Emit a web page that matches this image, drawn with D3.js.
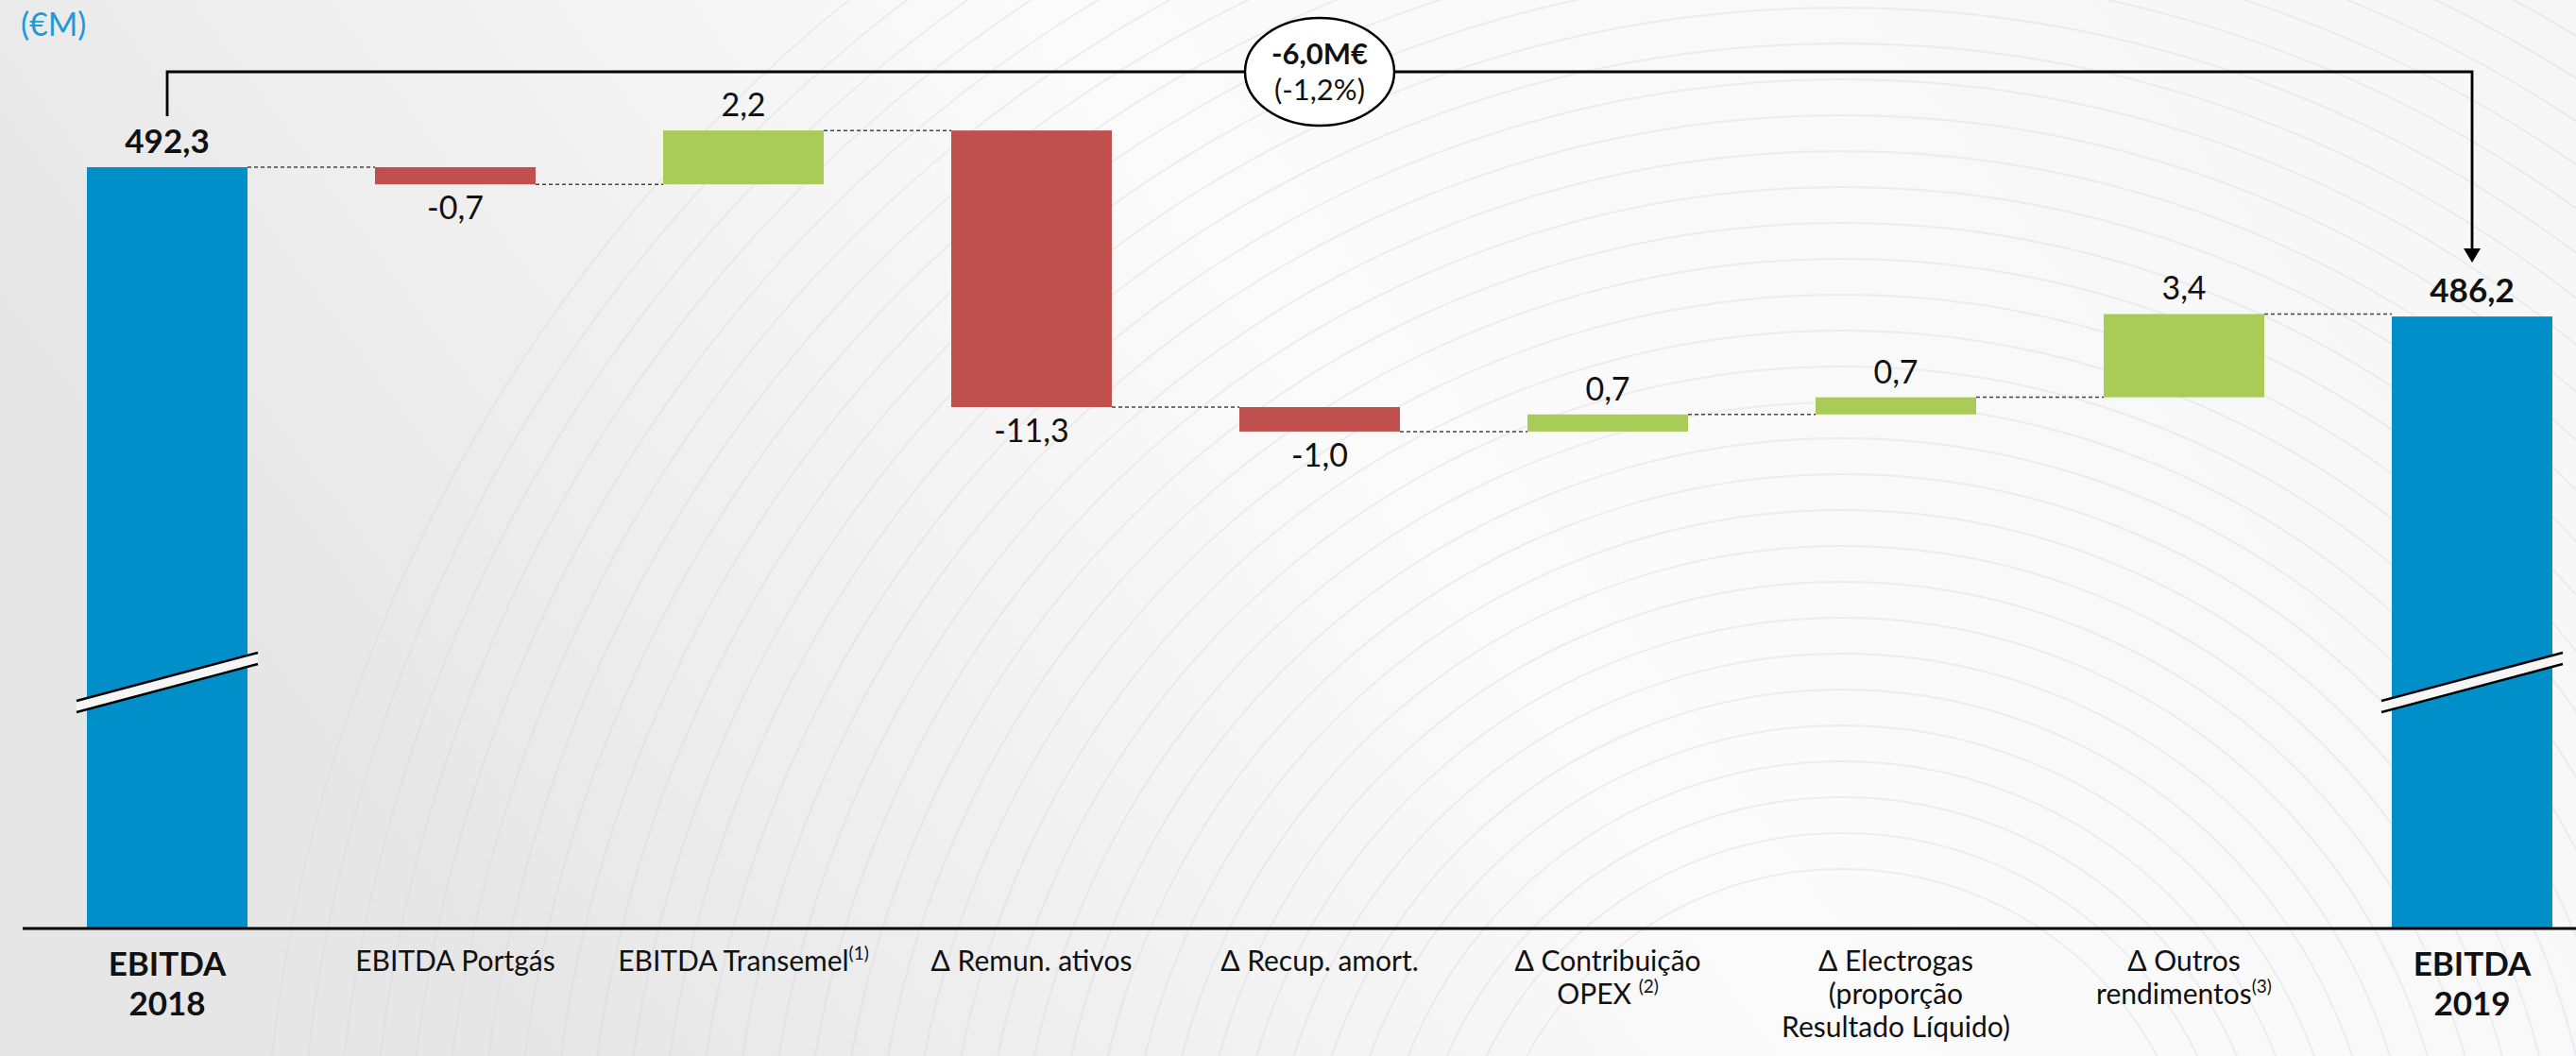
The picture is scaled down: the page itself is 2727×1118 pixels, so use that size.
<!DOCTYPE html>
<html>
<head>
<meta charset="utf-8">
<script src="https://cdn.jsdelivr.net/npm/d3@7"></script>
<style>
  html, body { margin: 0; padding: 0; background: #f7f7f7; }
  svg { display: block; }
  text { font-family: Lato, "Open Sans", sans-serif; }
</style>
</head>
<body>
<svg id="chart" width="2727" height="1118"></svg>
<script>
// ---- data ----
const categories = ["EBITDA 2018", "EBITDA Portgás", "EBITDA Transemel", "Δ Remun. ativos", "Δ Recup. amort.",
  "Δ Contribuição OPEX", "Δ Electrogas (proporção Resultado Líquido)", "Δ Outros rendimentos", "EBITDA 2019"];
const values = [492.3, -0.7, 2.2, -11.3, -1.0, 0.7, 0.7, 3.4, 486.2];
const kinds = ["total", "delta", "delta", "delta", "delta", "delta", "delta", "delta", "total"];
// category label lines: [text, superscript]
const labelLines = [
  [["EBITDA", ""], ["2018", ""]],
  [["EBITDA Portgás", ""]],
  [["EBITDA Transemel", "(1)"]],
  [["Δ Remun. ativos", ""]],
  [["Δ Recup. amort.", ""]],
  [["Δ Contribuição", ""], ["OPEX ", "(2)"]],
  [["Δ Electrogas", ""], ["(proporção", ""], ["Resultado Líquido)", ""]],
  [["Δ Outros", ""], ["rendimentos", "(3)"]],
  [["EBITDA", ""], ["2019", ""]]
];
const changeLabel = ["-6,0M€", "(-1,2%)"];
const unitLabel = "(€M)";
const axisMin = 461.2;   // value at the (broken) baseline
const axisTop = 492.3;

// ---- colours ----
const cBlue = "#008fc9", cRed = "#c0504d", cGreen = "#a9cc58";

const svg = d3.select("#chart");
const W = 2727, H = 1118;

// background
const defs = svg.append("defs");
const bg = defs.append("linearGradient").attr("id", "bg").attr("x1", "0").attr("y1", "0.3").attr("x2", "1").attr("y2", "0");
bg.append("stop").attr("offset", "0").attr("stop-color", "#e6e6e6");
bg.append("stop").attr("offset", "0.45").attr("stop-color", "#fbfbfb");
bg.append("stop").attr("offset", "1").attr("stop-color", "#f6f6f6");
svg.append("rect").attr("width", W).attr("height", H).attr("fill", "url(#bg)");
// faint decorative arcs
const deco = svg.append("g").attr("fill", "none").attr("stroke", "#d6d6e0").attr("stroke-width", 2).attr("opacity", 0.35);
d3.range(380, 1700, 38).forEach(r => {
  deco.append("circle").attr("cx", 1950).attr("cy", 1300).attr("r", r);
});

// ---- scales ----
const x = d3.scaleBand().domain(categories).range([24.5, 2769.5]).paddingInner(0.4426).paddingOuter(0.2213);
const y = d3.scaleLinear().domain([axisMin, axisTop]).range([983, 177]);

const loc = d3.formatLocale({decimal: ",", thousands: " ", grouping: [3], currency: ["", "€"], minus: "-"});
const fmt = loc.format(".1f");

// compute bar extents
let running = 0;
const bars = values.map((v, i) => {
  const c = categories[i];
  if (kinds[i] === "total") {
    running = v;
    return {c, v, lo: axisMin, hi: v, end: v, kind: "total"};
  }
  const start = running;
  running = start + v;
  return {c, v, lo: Math.min(start, running), hi: Math.max(start, running), end: running, kind: v < 0 ? "neg" : "pos"};
});

// connectors
const conn = svg.append("g").attr("stroke", "#444").attr("stroke-width", 1.5).attr("stroke-dasharray", "4,3");
bars.forEach((b, i) => {
  if (i === bars.length - 1) return;
  const nb = bars[i + 1];
  const level = b.kind === "total" ? b.hi : b.end;
  conn.append("line")
    .attr("x1", x(b.c) + x.bandwidth()).attr("x2", x(nb.c))
    .attr("y1", y(level)).attr("y2", y(level));
});

// bars
svg.append("g").selectAll("rect").data(bars).join("rect")
  .attr("x", d => x(d.c)).attr("width", x.bandwidth())
  .attr("y", d => y(d.hi)).attr("height", d => y(d.lo) - y(d.hi))
  .attr("fill", d => d.kind === "total" ? cBlue : d.kind === "neg" ? cRed : cGreen);

// axis baseline
const xAxis = d3.axisBottom(x).tickSize(0).tickFormat("");
const gx = svg.append("g").attr("transform", `translate(0,${y(axisMin)})`).call(xAxis);
gx.select(".domain").attr("d", `M24,0H${W}`).attr("stroke", "#000").attr("stroke-width", 3);

// break symbols on total bars
bars.filter(b => b.kind === "total").forEach(b => {
  const x0 = x(b.c) - 11, x1 = x(b.c) + x.bandwidth() + 11;
  const yl = 742, yr = 691, gap = 12;
  const g = svg.append("g");
  g.append("path").attr("d", `M${x0},${yl}L${x1},${yr}L${x1},${yr + gap}L${x0},${yl + gap}Z`).attr("fill", "#f5f5f5");
  g.append("line").attr("x1", x0).attr("y1", yl).attr("x2", x1).attr("y2", yr).attr("stroke", "#000").attr("stroke-width", 2.5);
  g.append("line").attr("x1", x0).attr("y1", yl + gap).attr("x2", x1).attr("y2", yr + gap).attr("stroke", "#000").attr("stroke-width", 2.5);
});

// value labels
svg.append("g").selectAll("text").data(bars).join("text")
  .attr("x", d => x(d.c) + x.bandwidth() / 2)
  .attr("y", d => d.kind === "neg" ? y(d.lo) + 37 : y(d.hi) - 15)
  .attr("text-anchor", "middle")
  .attr("font-size", d => d.kind === "total" ? 35 : 34)
  .attr("font-weight", d => d.kind === "total" ? 700 : 400)
  .attr("fill", "#111")
  .text(d => fmt(d.v));

// category labels
bars.forEach((b, i) => {
  const bold = b.kind === "total";
  const t = svg.append("text")
    .attr("text-anchor", "middle")
    .attr("font-size", bold ? 35 : 30)
    .attr("font-weight", bold ? 700 : 400)
    .attr("fill", "#111");
  labelLines[i].forEach((ln, j) => {
    const cx = x(b.c) + x.bandwidth() / 2;
    const yy = bold ? 1033 + j * 42 : 1028 + j * 35;
    t.append("tspan").attr("x", cx).attr("y", yy).text(ln[0]);
    if (ln[1]) {
      t.append("tspan").attr("font-size", 19).attr("dy", -12).text(ln[1]);
    }
  });
});

// unit label
svg.append("text").attr("x", 22).attr("y", 38).attr("font-size", 34).attr("fill", "#1e9ad6").text(unitLabel);

// bracket annotation
const first = bars[0], last = bars[bars.length - 1];
const xa = x(first.c) + x.bandwidth() / 2, xb = x(last.c) + x.bandwidth() / 2;
const yTop = 76;
svg.append("path")
  .attr("d", `M${xa},${y(first.hi) - 54}V${yTop}H${xb}V${y(last.hi) - 70}`)
  .attr("fill", "none").attr("stroke", "#000").attr("stroke-width", 2.8);
svg.append("path")
  .attr("d", `M${xb - 9},${y(last.hi) - 72}L${xb + 9},${y(last.hi) - 72}L${xb},${y(last.hi) - 57}Z`)
  .attr("fill", "#000");
const cxm = (xa + xb) / 2;
svg.append("ellipse").attr("cx", cxm).attr("cy", yTop).attr("rx", 79).attr("ry", 57)
  .attr("fill", "#fff").attr("stroke", "#000").attr("stroke-width", 2.5);
svg.append("text").attr("x", cxm).attr("y", 68).attr("text-anchor", "middle")
  .attr("font-size", 31).attr("font-weight", 700).attr("fill", "#111").text(changeLabel[0]);
svg.append("text").attr("x", cxm).attr("y", 106).attr("text-anchor", "middle")
  .attr("font-size", 31).attr("fill", "#111").text(changeLabel[1]);
</script>
</body>
</html>
